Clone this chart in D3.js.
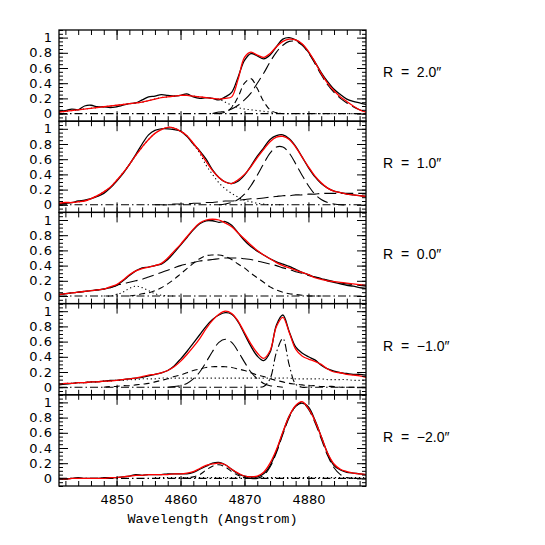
<!DOCTYPE html>
<html>
<head>
<meta charset="utf-8">
<script src="https://cdn.jsdelivr.net/npm/d3@7"></script>
<style>
body { margin: 0; background: #fff; }
</style>
</head>
<body>
<svg id="figure"></svg>
<script>
// wavelength grid (Angstrom)
var wave = [4841,4842,4843,4844,4845,4846,4847,4848,4849,4850,
            4851,4852,4853,4854,4855,4856,4857,4858,4859,4860,
            4861,4862,4863,4864,4865,4866,4867,4868,4869,4870,
            4871,4872,4873,4874,4875,4876,4877,4878,4879,4880,
            4881,4882,4883,4884,4885,4886,4887,4888,4889];

var radii = ["2.0", "1.0", "0.0", "\u22121.0", "\u22122.0"];
var xTicks = [4850, 4860, 4870, 4880];
var yTicks = [0, 0.2, 0.4, 0.6, 0.8, 1];

var n = null;
var flatZero = [0,0,0,0,0,0,0,0,0,0, 0,0,0,0,0,0,0,0,0,0, 0,0,0,0,0,0,0,0,0,0,
                0,0,0,0,0,0,0,0,0,0, 0,0,0,0,0,0,0,0,0];

// R = 2.0
var obs1 = [0.03,0.04,0.06,0.05,0.10,0.11,0.09,0.09,0.08,0.09,
            0.11,0.13,0.14,0.18,0.22,0.23,0.25,0.24,0.23,0.24,
            0.26,0.22,0.20,0.21,0.20,0.18,0.22,0.28,0.48,0.70,
            0.79,0.76,0.72,0.77,0.88,0.98,1.00,0.97,0.91,0.81,
            0.68,0.54,0.42,0.32,0.25,0.19,0.16,0.14,0.12];
var fit1 = [0.02,0.03,0.04,0.05,0.06,0.07,0.08,0.09,0.10,0.11,
            0.12,0.13,0.14,0.15,0.17,0.19,0.21,0.22,0.23,0.24,
            0.24,0.23,0.22,0.21,0.20,0.19,0.20,0.22,0.45,0.74,
            0.81,0.77,0.74,0.79,0.88,0.95,0.98,0.97,0.92,0.82,
            0.68,0.53,0.40,0.30,0.22,0.16,0.10,0.05,0.02];
var dot1 = [0.02,0.03,0.04,0.05,0.06,0.07,0.08,0.09,0.10,0.11,
            0.12,0.13,0.14,0.15,0.17,0.19,0.21,0.22,0.23,0.24,
            0.24,0.23,0.22,0.21,0.20,0.19,0.15,0.11,0.08,0.06,
            0.05,0.04,0.03,0.02,0.01,0,0,0,0,0,
            0,0,0,0,0,0,0,0,0];
var short1 = [n,n,n,n,n,n,n,n,n,n, n,n,n,n,n,n,n,n,n,n, n,n,n,n,n,
              0.0,0.02,0.08,0.22,0.40,0.46,0.33,0.16,0.05,0.01,0.0,
              n,n,n,n,n,n,n,n,n,n,n,n,n];
var long1 = [n,n,n,n,n,n,n,n,n,n, n,n,n,n,n,n,n,n,n,n, n,n,n,n,
             0.0,0.02,0.03,0.06,0.11,0.18,0.27,0.40,0.53,0.68,0.81,0.90,
             0.95,0.95,0.90,0.80,0.66,0.51,0.38,0.28,0.20,0.14,0.09,0.05,0.02];

// R = 1.0
var obs2 = [0.01,0.02,0.03,0.05,0.06,0.08,0.11,0.15,0.22,0.31,
            0.41,0.53,0.66,0.80,0.92,0.98,1.00,1.00,0.99,0.97,
            0.90,0.80,0.71,0.60,0.46,0.36,0.30,0.28,0.31,0.39,
            0.51,0.64,0.75,0.86,0.91,0.92,0.87,0.77,0.63,0.49,
            0.37,0.28,0.22,0.18,0.16,0.14,0.13,0.12,0.11];
var fit2 = [0.02,0.03,0.03,0.04,0.05,0.08,0.12,0.17,0.23,0.32,
            0.42,0.53,0.65,0.76,0.86,0.94,0.99,1.02,1.01,0.97,
            0.91,0.81,0.70,0.57,0.45,0.36,0.30,0.28,0.33,0.40,
            0.50,0.62,0.73,0.83,0.89,0.90,0.86,0.76,0.63,0.50,
            0.38,0.29,0.22,0.18,0.16,0.14,0.13,0.12,0.11];
var dot2 = [0.02,0.03,0.03,0.04,0.05,0.08,0.12,0.17,0.23,0.32,
            0.42,0.53,0.65,0.76,0.86,0.94,0.99,1.02,1.01,0.97,
            0.91,0.80,0.68,0.52,0.40,0.29,0.21,0.15,0.10,0.06,
            0.04,0.02,0.01,0.0,0.0,0.0,n,n,n,n,
            n,n,n,n,n,n,n,n,n];
var long2 = [n,n,n,n,n,n,n,n,n,n, n,n,n,n,n,n,n,n,n,n, n,n,n,n,n,
             0.0,0.01,0.03,0.07,0.14,0.25,0.39,0.54,0.68,0.76,0.76,
             0.68,0.54,0.39,0.25,0.14,0.07,0.03,0.01,0.0,0.0,
             n,n,n];
var broad2 = [n,n,n,n,n,n,n,n,n,n, n,n,n,n,n,
              0.0,0.0,0.0,0.01,0.01,0.01,0.02,0.02,0.03,0.03,
              0.04,0.05,0.05,0.06,0.07,0.08,0.08,0.09,0.10,0.11,
              0.12,0.12,0.13,0.13,0.14,0.14,0.15,0.15,0.15,0.15,
              0.15,0.15,0.15,0.15];

// R = 0.0
var obs3 = [0.02,0.03,0.04,0.05,0.06,0.07,0.08,0.09,0.11,0.14,
            0.20,0.27,0.33,0.37,0.38,0.40,0.42,0.48,0.57,0.67,
            0.77,0.87,0.95,0.99,0.99,0.97,0.98,0.93,0.83,0.73,
            0.65,0.59,0.54,0.49,0.45,0.42,0.39,0.35,0.31,0.28,
            0.25,0.23,0.20,0.18,0.16,0.14,0.13,0.11,0.10];
var fit3 = [0.02,0.03,0.04,0.05,0.06,0.07,0.08,0.09,0.12,0.15,
            0.21,0.28,0.33,0.36,0.38,0.40,0.43,0.50,0.59,0.68,
            0.78,0.88,0.96,1.00,1.01,1.00,0.96,0.91,0.83,0.75,
            0.67,0.60,0.54,0.49,0.44,0.40,0.37,0.34,0.31,0.28,
            0.24,0.22,0.20,0.19,0.18,0.17,0.16,0.15,0.14];
var long3 = [0.02,0.03,0.04,0.05,0.06,0.07,0.08,0.09,0.11,0.14,
             0.16,0.18,0.20,0.22,0.25,0.28,0.31,0.34,0.37,0.40,
             0.42,0.44,0.46,0.47,0.48,0.49,0.50,0.50,0.50,0.49,
             0.48,0.46,0.44,0.42,0.40,0.37,0.35,0.32,0.30,0.27,
             0.25,0.23,0.21,0.19,0.17,0.16,0.15,0.14,0.13];
var short3 = [n,n,n,n,n,n,n,n,n,n,n,
              0.0,0.01,0.03,0.04,0.07,0.11,0.16,0.22,0.29,0.36,
              0.43,0.49,0.53,0.54,0.54,0.52,0.48,0.42,0.37,0.30,
              0.24,0.18,0.12,0.08,0.05,0.03,0.02,0.01,0.0,0.0,0.0,
              n,n,n,n,n,n,n];
var dot3 = [n,n,n,n,n,n,n,
            0.0,0.0,0.02,0.05,0.10,0.13,0.11,0.07,0.03,0.01,0.0,0.0,
            n,n,n,n,n,n,n,n,n,n, n,n,n,n,n,n,n,n,n,n, n,n,n,n,n,n,n,n,n,n];

// R = -1.0
var obs4 = [0.03,0.04,0.05,0.06,0.06,0.07,0.07,0.08,0.09,0.09,
            0.10,0.11,0.12,0.13,0.15,0.17,0.19,0.22,0.28,0.37,
            0.47,0.58,0.69,0.80,0.89,0.95,0.98,0.96,0.86,0.70,
            0.54,0.41,0.35,0.46,0.82,0.95,0.73,0.53,0.45,0.40,
            0.36,0.29,0.24,0.21,0.19,0.18,0.17,0.17,0.16];
var fit4 = [0.04,0.05,0.05,0.06,0.06,0.07,0.07,0.08,0.08,0.09,
            0.10,0.11,0.12,0.14,0.16,0.17,0.19,0.22,0.27,0.34,
            0.43,0.53,0.64,0.77,0.88,0.96,1.00,0.97,0.87,0.72,
            0.57,0.45,0.38,0.48,0.80,0.92,0.72,0.50,0.41,0.37,
            0.34,0.30,0.24,0.20,0.19,0.17,0.16,0.15,0.13];
var long4 = [n,n,n,n,n,n,n,n,n,n, n,n,n,n,n,n,n,
             0.0,0.01,0.02,0.05,0.11,0.20,0.33,0.47,0.59,0.63,0.59,
             0.47,0.33,0.20,0.11,0.05,0.02,0.01,0.0,
             n,n,n,n,n,n,n,n,n,n,n,n,n];
var short4 = [n,n,n,n,n,n,n,
              0.0,0.01,0.01,0.02,0.02,0.03,0.04,0.05,0.07,0.09,0.11,0.14,
              0.16,0.19,0.22,0.24,0.26,0.27,0.27,0.27,0.26,0.24,0.22,
              0.19,0.16,0.14,0.11,0.09,0.07,0.05,0.04,0.03,0.02,0.02,
              0.01,0.01,0.01,0.0,0.0,0.0,0.0,0.0];
var dot4 = [0.04,0.05,0.05,0.06,0.06,0.07,0.07,0.08,0.08,0.09,
            0.09,0.10,0.10,0.11,0.11,0.11,0.12,0.12,0.12,0.12,
            0.12,0.12,0.12,0.12,0.12,0.12,0.12,0.12,0.12,0.12,
            0.12,0.12,0.12,0.12,0.12,0.12,0.12,0.11,0.11,0.11,
            0.11,0.11,0.10,0.10,0.10,0.10,0.09,0.09,0.09];
var dashdot4 = [0,0,0,0,0,0,0,0,0,0, 0,0,0,0,0,0,0,0,0,0,
                0,0,0,0,0,0,0,0,0,0, 0,0,
                0.01,0.11,0.46,0.64,0.29,0.04,0.0,
                0,0,0,0,0,0,0,0,0,0];

// R = -2.0
var obs5 = [0.0,-0.01,0.0,0.01,0.0,0.0,0.0,0.01,0.01,0.01,
            0.02,0.03,0.05,0.04,0.05,0.05,0.05,0.06,0.06,0.06,
            0.06,0.08,0.12,0.16,0.20,0.21,0.18,0.12,0.06,0.03,
            0.02,0.02,0.06,0.17,0.36,0.60,0.82,0.95,0.99,0.94,
            0.77,0.55,0.33,0.17,0.11,0.08,0.07,0.06,0.05];
var fit5 = [-0.01,-0.01,0.0,0.0,0.0,0.0,0.0,0.0,0.01,0.01,
            0.02,0.03,0.04,0.04,0.05,0.05,0.05,0.05,0.06,0.06,
            0.07,0.09,0.13,0.17,0.19,0.20,0.18,0.12,0.07,0.03,
            0.02,0.03,0.08,0.20,0.38,0.61,0.82,0.96,1.01,0.92,
            0.76,0.55,0.33,0.19,0.12,0.09,0.07,0.06,0.05];
var long5 = [n,n,n,n,n,n,n,n,n,n, n,n,n,n,n,n,n,n,n,n, n,n,n,n,n,n,n,n,n,n,
             0.0,0.0,0.04,0.15,0.34,0.58,0.80,0.95,1.00,0.91,
             0.74,0.52,0.30,0.14,0.05,0.01,0.0,
             n,n];
var short5 = [n,n,n,n,n,n,n,n,n,n, n,n,n,n,n,n,n,n,n,
              0.0,0.01,0.02,0.05,0.11,0.16,0.18,0.15,0.09,0.04,0.01,0.0,
              n,n,n,n,n,n,n,n,n,n,n,n,n,n,n,n,n,n];
var dot5 = [n,n,n,n,n,n,n,n,n,n, n,n,n,n,n,
            0.01,0.01,0.01,0.01,0.01,0.01,0.01,0.01,0.01,0.01,
            0.01,0.01,0.01,0.01,0.01,0.01,0.01,0.01,0.01,0.01,
            0.01,0.01,0.01,0.01,0.01,0.01,0.01,0.01,0.01,0.01,
            0.01,0.01,0.01,0.01];

var panels = [
  {obs: obs1, fit: fit1, comps: [[dot1, "dot"], [short1, "short"], [long1, "long"], [flatZero, "dashdot"]]},
  {obs: obs2, fit: fit2, comps: [[dot2, "dot"], [long2, "long"], [broad2, "long"], [flatZero, "dashdot"]]},
  {obs: obs3, fit: fit3, comps: [[dot3, "dot"], [short3, "short"], [long3, "long"], [flatZero, "dashdot"]]},
  {obs: obs4, fit: fit4, comps: [[dot4, "dot"], [short4, "short"], [long4, "long"], [dashdot4, "dashdot"]]},
  {obs: obs5, fit: fit5, comps: [[dot5, "dot"], [short5, "short"], [long5, "long"], [flatZero, "dashdot"]]}
];

var dashes = {dot: "1.2,2.8", short: "6,4", long: "12,5", dashdot: "8,3,1.5,3"};

var margin = {top: 30, left: 59};
var width = 307;
var panelHeight = 91.2;

var svg = d3.select("#figure").attr("width", 545).attr("height", 545);

var x = d3.scaleLinear().domain([4841, 4889]).range([0, width]);
var y = d3.scaleLinear().domain([-0.1, 1.1]).range([panelHeight, 0]);

var xMinor = d3.range(4842, 4889, 2);
var yMinor = d3.range(-10, 111, 5).map(function (d) { return d / 100; });

var line = d3.line()
    .defined(function (d) { return d != null; })
    .x(function (d, i) { return x(wave[i]); })
    .y(function (d) { return y(d); })
    .curve(d3.curveCatmullRom);

function ticks(g, axis, vals, size) {
    g.call(axis.tickValues(vals).tickSize(-size).tickFormat(""));
    g.select(".domain").remove();
}

panels.forEach(function (p, i) {
    var g = svg.append("g")
        .attr("transform", "translate(" + margin.left + "," + (margin.top + i * panelHeight) + ")");

    g.append("clipPath").attr("id", "clip" + i)
        .append("rect").attr("width", width).attr("height", panelHeight);

    var plot = g.append("g").attr("clip-path", "url(#clip" + i + ")");

    p.comps.forEach(function (c) {
        plot.append("path").datum(c[0]).attr("d", line)
            .attr("fill", "none").attr("stroke", "#000").attr("stroke-width", 1.1)
            .attr("stroke-dasharray", dashes[c[1]]);
    });
    plot.append("path").datum(p.obs).attr("d", line)
        .attr("fill", "none").attr("stroke", "#000").attr("stroke-width", 1.3);
    plot.append("path").datum(p.fit).attr("d", line)
        .attr("fill", "none").attr("stroke", "#ff0000").attr("stroke-width", 1.3);

    // inward ticks on all four sides
    g.append("g").attr("transform", "translate(0," + panelHeight + ")").call(ticks, d3.axisBottom(x), xMinor, 5);
    g.append("g").attr("transform", "translate(0," + panelHeight + ")").call(ticks, d3.axisBottom(x), xTicks, 10);
    g.append("g").call(ticks, d3.axisTop(x), xMinor, 5);
    g.append("g").call(ticks, d3.axisTop(x), xTicks, 10);
    g.append("g").call(ticks, d3.axisLeft(y), yMinor, 4);
    g.append("g").attr("transform", "translate(" + width + ",0)").call(ticks, d3.axisRight(y), yMinor, 4);
    g.append("g").attr("transform", "translate(" + width + ",0)").call(ticks, d3.axisRight(y), yTicks, 9);

    var yAxis = g.append("g")
        .call(d3.axisLeft(y).tickValues(yTicks).tickSize(-9).tickPadding(6).tickFormat(function (d) { return d; }));
    yAxis.select(".domain").remove();
    yAxis.selectAll("text").attr("font-size", 13).attr("font-family", "DejaVu Sans").attr("letter-spacing", 1);

    g.append("rect").attr("width", width).attr("height", panelHeight)
        .attr("fill", "none").attr("stroke", "#000").attr("stroke-width", 1.3);

    g.append("text")
        .attr("x", 324).attr("y", 47)
        .attr("font-family", "Liberation Sans").attr("font-size", 14)
        .attr("xml:space", "preserve").style("white-space", "pre")
        .text("R  =  " + radii[i] + "\u2033");

    if (i === panels.length - 1) {
        var xAxis = g.append("g").attr("transform", "translate(0," + panelHeight + ")")
            .call(d3.axisBottom(x).tickValues(xTicks).tickSize(0).tickPadding(9).tickFormat(d3.format("d")));
        xAxis.select(".domain").remove();
        xAxis.selectAll("text").attr("font-size", 13).attr("font-family", "DejaVu Sans");

        g.append("text")
            .attr("x", width / 2).attr("y", panelHeight + 37)
            .attr("text-anchor", "middle")
            .attr("font-family", "Liberation Mono").attr("font-size", 13.5)
            .text("Wavelength (Angstrom)");
    }
});
</script>
</body>
</html>
